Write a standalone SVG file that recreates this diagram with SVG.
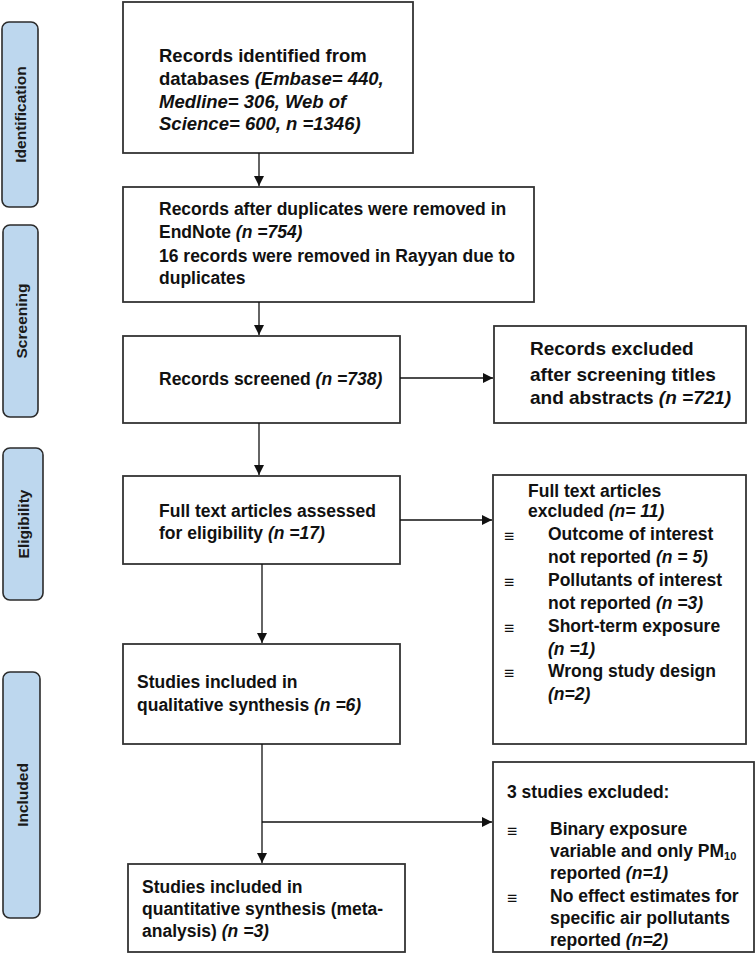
<svg xmlns="http://www.w3.org/2000/svg" width="756" height="955" viewBox="0 0 756 955">
<defs>
<marker id="arr" markerUnits="userSpaceOnUse" markerWidth="11" markerHeight="11" refX="10" refY="5" orient="auto"><path d="M0,0 L10,5 L0,10 z" fill="#111"/></marker>
<style>
.stage rect{fill:#BDD7EE;stroke:#2b2b2b;stroke-width:1.6}
.stage text{font-family:"Liberation Sans",Arial,sans-serif;font-weight:bold;font-size:15.5px;fill:#1a1a1a;text-anchor:middle}
.box rect{fill:#fff;stroke:#333;stroke-width:1.8}
.box text{font-family:"Liberation Sans",Arial,sans-serif;font-weight:bold;font-size:17.5px;fill:#111}
.i{font-style:italic}
.b{font-family:"DejaVu Sans",sans-serif;font-size:11px;font-weight:bold}
#connectors line{stroke:#111;stroke-width:1.3;fill:none}
</style>
</defs>
<rect width="756" height="955" fill="#fff"/>
<g id="stage-identification" class="stage"><rect x="2" y="22" width="36" height="185" rx="7"/><text transform="translate(26,114.5) rotate(-90)">Identification</text></g>
<g id="stage-screening" class="stage"><rect x="3" y="225" width="35" height="192" rx="7"/><text transform="translate(26.5,321) rotate(-90)">Screening</text></g>
<g id="stage-eligibility" class="stage"><rect x="3" y="448" width="40" height="152" rx="7"/><text transform="translate(29,524) rotate(-90)">Eligibility</text></g>
<g id="stage-included" class="stage"><rect x="3" y="672" width="37" height="246" rx="7"/><text transform="translate(27.5,795) rotate(-90)">Included</text></g>

<g id="identified" class="box"><rect x="123" y="2" width="290" height="151"/>
<text x="159" y="62" style="font-size:18.5px">Records identified from</text>
<text x="159" y="85" style="font-size:18.5px">databases <tspan class="i">(Embase= 440,</tspan></text>
<text x="159" y="108" class="i" style="font-size:18.5px">Medline= 306, Web of</text>
<text x="159" y="130" class="i" style="font-size:18.5px">Science= 600, n =1346)</text>
</g>
<g id="duplicates" class="box"><rect x="123" y="187" width="411" height="115"/>
<text x="159" y="215">Records after duplicates were removed in</text>
<text x="159" y="238">EndNote <tspan class="i">(n =754)</tspan></text>
<text x="159" y="262">16 records were removed in Rayyan due to</text>
<text x="159" y="284">duplicates</text>
</g>
<g id="screened" class="box"><rect x="123" y="336" width="277" height="87"/>
<text x="159" y="385">Records screened <tspan class="i">(n =738)</tspan></text>
</g>
<g id="excluded-screening" class="box"><rect x="494" y="326" width="252" height="97"/>
<text x="530" y="355" style="font-size:19px">Records excluded</text>
<text x="530" y="381" style="font-size:19px">after screening titles</text>
<text x="530" y="404" style="font-size:19px">and abstracts <tspan class="i">(n =721)</tspan></text>
</g>
<g id="fulltext" class="box"><rect x="123" y="476" width="277" height="88"/>
<text x="159" y="517">Full text articles assessed</text>
<text x="159" y="539">for eligibility <tspan class="i">(n =17)</tspan></text>
</g>
<g id="excluded-fulltext" class="box"><rect x="493" y="475" width="253" height="269"/>
<text x="528" y="497">Full text articles</text>
<text x="528" y="517">excluded <tspan class="i">(n= 11)</tspan></text>
<text x="504" y="542" class="b">≡</text>
<text x="548" y="540">Outcome of interest</text>
<text x="548" y="563">not reported <tspan class="i">(n = 5)</tspan></text>
<text x="504" y="588" class="b">≡</text>
<text x="548" y="586">Pollutants of interest</text>
<text x="548" y="609">not reported <tspan class="i">(n =3)</tspan></text>
<text x="504" y="634" class="b">≡</text>
<text x="548" y="632">Short-term exposure</text>
<text x="548" y="655" class="i">(n =1)</text>
<text x="504" y="679" class="b">≡</text>
<text x="548" y="677">Wrong study design</text>
<text x="548" y="700" class="i">(n=2)</text>
</g>
<g id="qualitative" class="box"><rect x="123" y="644" width="277" height="100"/>
<text x="137" y="688">Studies included in</text>
<text x="137" y="711">qualitative synthesis <tspan class="i">(n =6)</tspan></text>
</g>
<g id="quantitative" class="box"><rect x="128" y="864" width="277" height="88"/>
<text x="142" y="893">Studies included in</text>
<text x="142" y="915">quantitative synthesis (meta-</text>
<text x="142" y="937">analysis) <tspan class="i">(n =3)</tspan></text>
</g>
<g id="excluded-meta" class="box"><rect x="493" y="762" width="261" height="190"/>
<text x="507" y="798">3 studies excluded:</text>
<text x="507" y="837" class="b">≡</text>
<text x="550" y="835">Binary exposure</text>
<text x="550" y="857">variable and only PM<tspan style="font-size:11px" dy="3">10</tspan></text>
<text x="550" y="879">reported <tspan class="i">(n=1)</tspan></text>
<text x="507" y="904" class="b">≡</text>
<text x="550" y="902">No effect estimates for</text>
<text x="550" y="924">specific air pollutants</text>
<text x="550" y="946">reported <tspan class="i">(n=2)</tspan></text>
</g>

<g id="connectors">
<line x1="259" y1="153" x2="259" y2="186" marker-end="url(#arr)"/>
<line x1="259" y1="302" x2="259" y2="335" marker-end="url(#arr)"/>
<line x1="400" y1="378" x2="493" y2="378" marker-end="url(#arr)"/>
<line x1="259" y1="423" x2="259" y2="475" marker-end="url(#arr)"/>
<line x1="400" y1="520" x2="492" y2="520" marker-end="url(#arr)"/>
<line x1="262" y1="564" x2="262" y2="643" marker-end="url(#arr)"/>
<line x1="262" y1="744" x2="262" y2="863" marker-end="url(#arr)"/>
<line x1="262" y1="822" x2="492" y2="822" marker-end="url(#arr)"/>
</g>
</svg>
